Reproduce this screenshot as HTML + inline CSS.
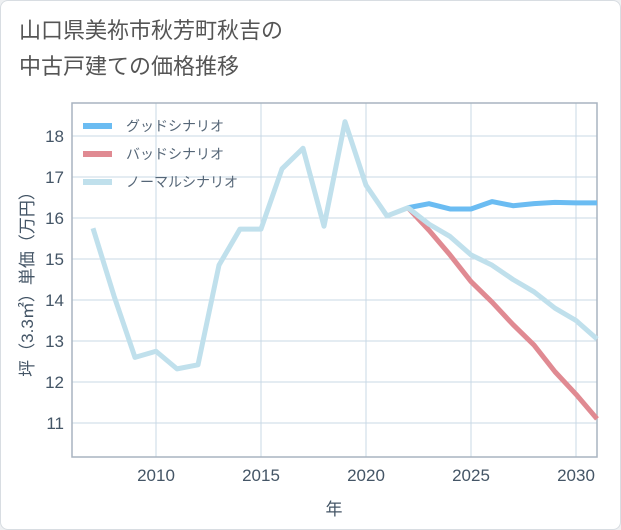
<!DOCTYPE html>
<html><head><meta charset="utf-8"><style>
body{margin:0;background:#eef0f2;font-family:"Liberation Sans","Noto Sans CJK JP",sans-serif;}
#card{position:absolute;left:0;top:0;width:619px;height:528px;background:#fff;border:1px solid #d8dde2;border-radius:8px;}
#title{position:absolute;left:18px;top:12px;font-size:22px;line-height:36px;color:#555;}
</style></head><body>
<div id="card">
<div id="title">山口県美祢市秋芳町秋吉の<br>中古戸建ての価格推移</div>
<svg id="chart" width="621" height="530" style="position:absolute;left:-1px;top:-1px"></svg>
</div>
<script>
const years=[2007,2008,2009,2010,2011,2012,2013,2014,2015,2016,2017,2018,2019,2020,2021,2022,2023,2024,2025,2026,2027,2028,2029,2030,2031];
const normal=[15.75,14.1,12.6,12.75,12.32,12.42,14.85,15.73,15.73,17.2,17.7,15.8,18.35,16.8,16.05,16.25,15.85,15.55,15.1,14.85,14.5,14.2,13.8,13.5,13.05];
const goodYears=[2022,2023,2024,2025,2026,2027,2028,2029,2030,2031];
const good=[16.25,16.35,16.22,16.22,16.4,16.3,16.35,16.38,16.37,16.37];
const bad=[16.25,15.7,15.1,14.45,13.95,13.4,12.9,12.25,11.7,11.1];
const xTicks=[2010,2015,2020,2025,2030];
const yTicks=[11,12,13,14,15,16,17,18];
const L=72,R=597,T=103,B=457;
const x=yr=>156+(yr-2010)*21;
const y=v=>136+(18-v)*41;
const svg=document.getElementById('chart');
const NS='http://www.w3.org/2000/svg';
function mk(t,a){const e=document.createElementNS(NS,t);for(const k in a)e.setAttribute(k,a[k]);svg.appendChild(e);return e;}
yTicks.forEach(v=>{
 const g=mk('line',{x1:L,x2:R,y1:y(v),y2:y(v),stroke:'#c9d9e6','stroke-width':1});
 
 
 const t=mk('text',{x:L-8,y:y(v)+6,'text-anchor':'end','font-size':17,fill:'#445566'});
 t.textContent=v;
 
 
});
xTicks.forEach(v=>{
 const g=mk('line',{x1:x(v),x2:x(v),y1:T,y2:B,stroke:'#c9d9e6','stroke-width':1});
 
 
 const t=mk('text',{x:x(v),y:B+24,'text-anchor':'middle','font-size':17,fill:'#445566'});
 t.textContent=v;
 
 
});
const ax=mk('rect',{x:L,y:T,width:R-L,height:B-T,fill:'none',stroke:'#a8b4c0','stroke-width':1.5});


const xt=mk('text',{x:334,y:515,'text-anchor':'middle','font-size':17,fill:'#445566'});
xt.textContent='年';


const yt=mk('text',{x:0,y:0,'text-anchor':'middle','font-size':17,fill:'#445566',transform:'translate(33,280) rotate(-90)'});
yt.textContent='坪（3.3㎡）単価（万円）';


function line(xs,vs,c,n){
 const p=mk('polyline',{points:xs.map((yr,i)=>x(yr)+','+y(vs[i])).join(' '),fill:'none',stroke:c,'stroke-width':5,'stroke-linejoin':'round'});
 
 
}
line(goodYears,good,'#6bbcf2','good-scenario-line');
line(goodYears,bad,'#e08a92','bad-scenario-line');
line(years,normal,'#c0e0ec','normal-scenario-line');
const leg=[['グッドシナリオ','#6bbcf2'],['バッドシナリオ','#e08a92'],['ノーマルシナリオ','#c0e0ec']];
leg.forEach((l,i)=>{
 const yy=126+i*28;
 const s=mk('line',{x1:83,x2:112,y1:yy,y2:yy,stroke:l[1],'stroke-width':6});
 
 
 const t=mk('text',{x:126,y:yy+5,'font-size':14,fill:'#556677'});
 t.textContent=l[0];
 
 
});
</script>
</body></html>
